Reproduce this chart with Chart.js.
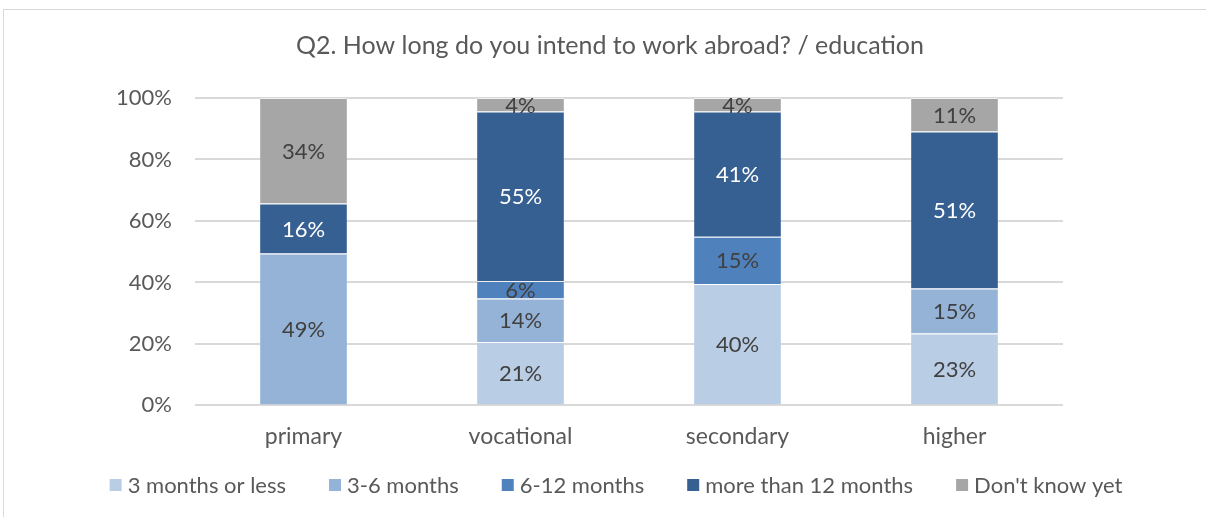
<!DOCTYPE html>
<html>
<head>
<meta charset="utf-8">
<script src="https://cdn.jsdelivr.net/npm/chart.js@4.4.1/dist/chart.umd.min.js"></script>
<style>
  html, body { margin: 0; padding: 0; background: #fff; }
  #wrap { position: relative; width: 1206px; height: 517px; }
  #frame { position: absolute; left: 3px; top: 9px; width: 1210px; height: 520px;
           border-top: 1px solid #d9d9d9; border-left: 1px solid #d9d9d9; }
  canvas { position: absolute; left: 0; top: 0; }
</style>
</head>
<body>
<div id="wrap">
  <div id="frame"></div>
  <canvas id="eduChart" width="1206" height="517"></canvas>
</div>
<script>
// categories and series (share of respondents, %)
const categories = ['primary', 'vocational', 'secondary', 'higher'];
const upTo3 = [0, 20.6, 39.5, 23.4];
const from3to6 = [49.4, 14.2, 0, 14.6];
const from6to12 = [0, 5.7, 15.4, 0];
const over12 = [16.3, 55.1, 40.7, 51.1];
const dontKnow = [34.3, 4.4, 4.4, 10.9];
const yTicks = [0, 20, 40, 60, 80, 100];

const FONT = 'Lato, "Open Sans", sans-serif';

const series = [
    { label: '3 months or less', data: upTo3, color: '#b9cde5', text: '#404040' },
    { label: '3-6 months', data: from3to6, color: '#95b3d7', text: '#404040' },
    { label: '6-12 months', data: from6to12, color: '#4f81bd', text: '#404040' },
    { label: 'more than 12 months', data: over12, color: '#366092', text: '#ffffff' },
    { label: "Don't know yet", data: dontKnow, color: '#a6a6a6', text: '#404040' }
];

// draws the % value in the middle of each segment
const segmentLabels = {
    id: 'segmentLabels',
    afterDatasetsDraw(chart) {
        const ctx = chart.ctx;
        ctx.save();
        ctx.font = '22px ' + FONT;
        ctx.textAlign = 'center';
        ctx.textBaseline = 'middle';
        chart.data.datasets.forEach((ds, i) => {
            const meta = chart.getDatasetMeta(i);
            meta.data.forEach((bar, j) => {
                const v = ds.data[j];
                if (!v) return;
                ctx.fillStyle = series[i].text;
                ctx.fillText(Math.round(v) + '%', bar.x, (bar.y + bar.base) / 2 + 1);
            });
        });
        ctx.restore();
    }
};

// single-row legend under the axis, spaced like the office original
const bottomLegend = {
    id: 'bottomLegend',
    afterDraw(chart) {
        const ctx = chart.ctx;
        const box = 12, gap = 6, spacing = 43, y = 485, centerX = 616;
        ctx.save();
        ctx.font = '22px ' + FONT;
        ctx.textBaseline = 'middle';
        ctx.textAlign = 'left';
        const widths = chart.data.datasets.map(ds => box + gap + ctx.measureText(ds.label).width);
        const total = widths.reduce((a, b) => a + b, 0) + spacing * (widths.length - 1);
        let x = centerX - total / 2;
        chart.data.datasets.forEach((ds, i) => {
            ctx.fillStyle = ds.backgroundColor;
            ctx.fillRect(x, y - box / 2, box, box);
            ctx.fillStyle = '#595959';
            ctx.fillText(ds.label, x + box + gap, y + 1);
            x += widths[i] + spacing;
        });
        ctx.restore();
    }
};

new Chart(document.getElementById('eduChart'), {
    type: 'bar',
    data: {
        labels: categories,
        datasets: series.map(s => ({
            label: s.label,
            data: s.data,
            yAxisID: 'y',
            backgroundColor: s.color,
            borderColor: 'rgba(255,255,255,0.6)',
            borderWidth: { top: 1, left: 0, right: 0, bottom: 0 },
            borderSkipped: 'start',
            categoryPercentage: 1,
            barPercentage: 0.4
        }))
    },
    options: {
        responsive: false,
        animation: false,
        layout: { padding: { left: 14, right: 0, top: 31, bottom: 50 } },
        plugins: {
            title: {
                display: true,
                text: 'Q2. How long do you intend to work abroad? / education',
                color: '#595959',
                font: { family: FONT, size: 25, weight: 'normal' },
                padding: { top: 0, bottom: 37 }
            },
            legend: { display: false },
            tooltip: { enabled: false }
        },
        scales: {
            x: {
                stacked: true,
                grid: { display: false, drawTicks: false },
                border: { display: false },
                ticks: { color: '#595959', font: { family: FONT, size: 23 }, padding: 17 }
            },
            y: {
                stacked: true,
                min: 0,
                max: 100,
                afterFit(scale) { scale.width = 181; },
                afterBuildTicks(scale) { scale.ticks = yTicks.map(v => ({ value: v })); },
                grid: { color: '#d9d9d9', lineWidth: 2, drawTicks: false },
                border: { display: false },
                ticks: {
                    color: '#595959',
                    font: { family: FONT, size: 22 },
                    padding: 23,
                    callback: v => v + '%'
                }
            },
            // empty right-hand axis, only keeps the plot area off the right edge
            y2: {
                position: 'right',
                afterFit(scale) { scale.width = 143; },
                grid: { display: false, drawTicks: false },
                border: { display: false },
                ticks: { display: false }
            }
        }
    },
    plugins: [segmentLabels, bottomLegend]
});
</script>
</body>
</html>
